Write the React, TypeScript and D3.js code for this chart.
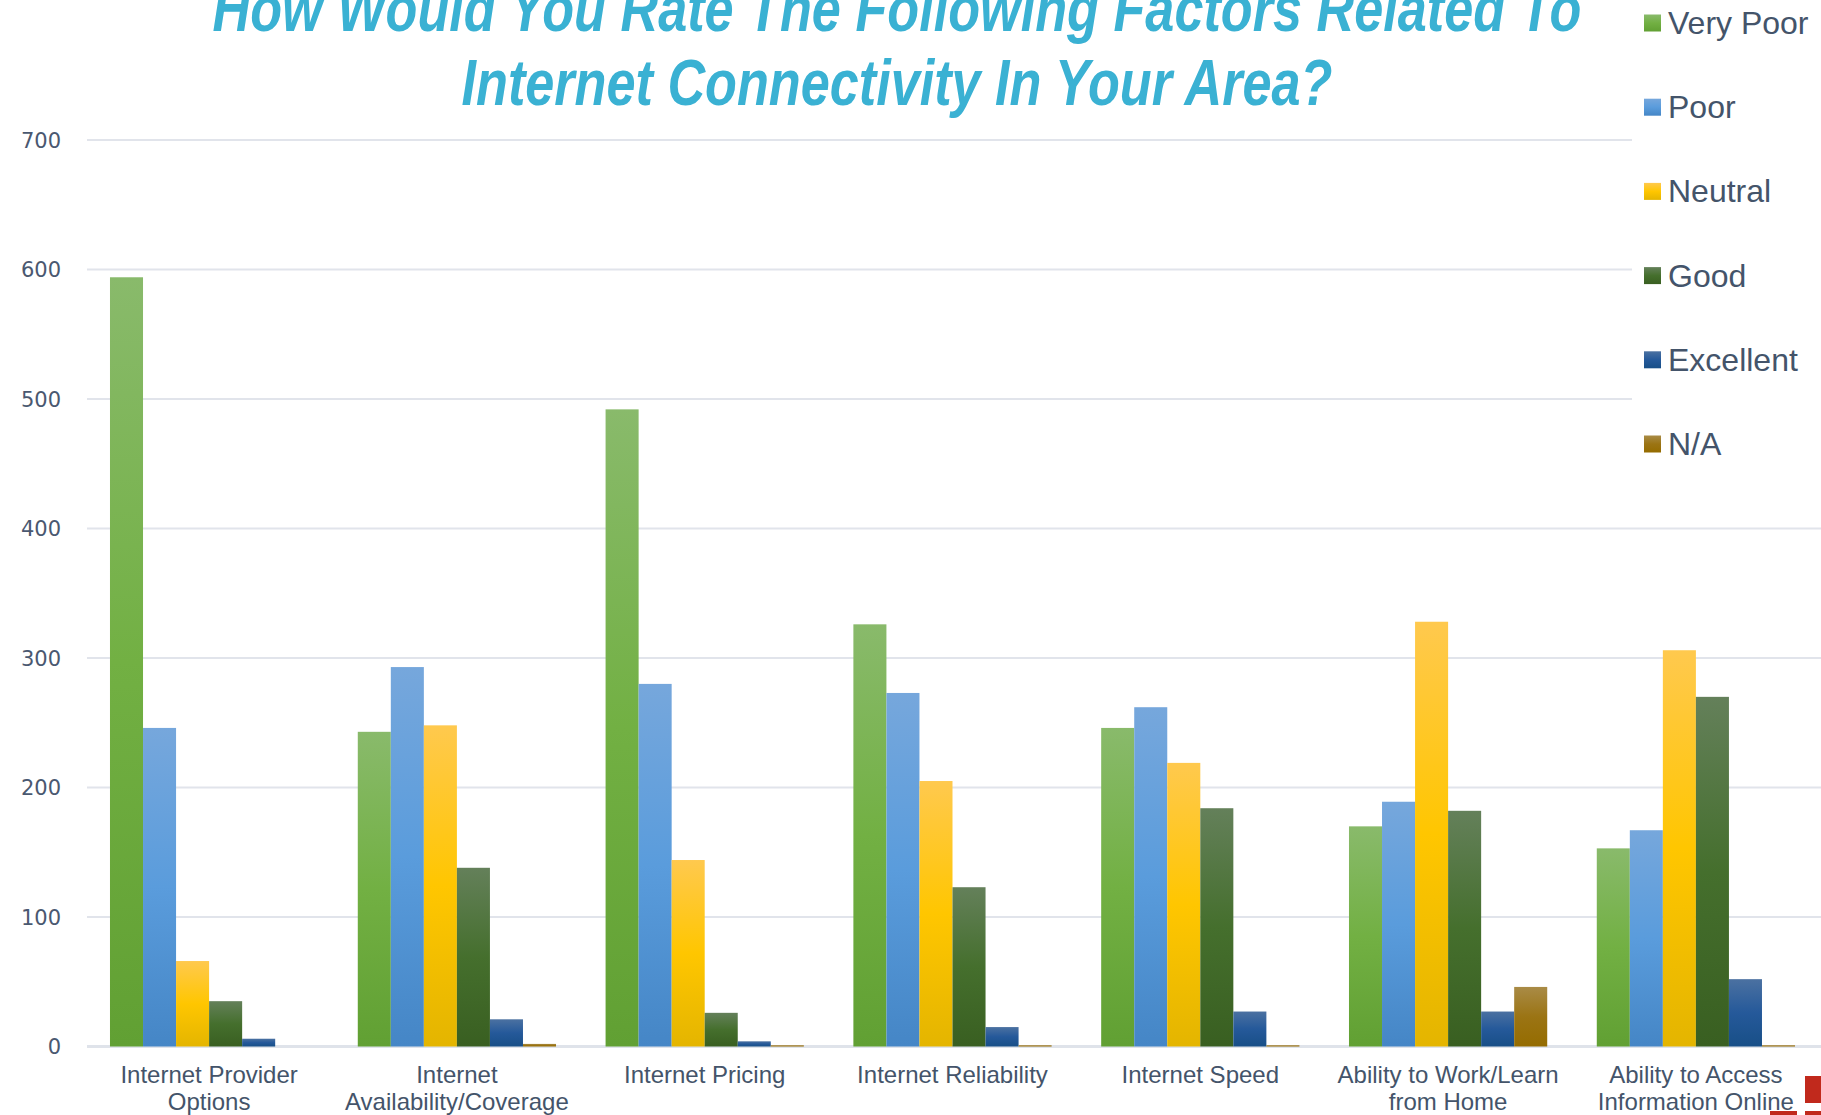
import React from "react";
import * as d3 from "d3";

// category labels, one entry per line
const categories: string[][] = [
  ["Internet Provider", "Options"],
  ["Internet", "Availability/Coverage"],
  ["Internet Pricing"],
  ["Internet Reliability"],
  ["Internet Speed"],
  ["Ability to Work/Learn", "from Home"],
  ["Ability to Access", "Information Online"],
];

const seriesNames = ["Very Poor", "Poor", "Neutral", "Good", "Excellent", "N/A"];

const veryPoor = [594, 243, 492, 326, 246, 170, 153];
const poor = [246, 293, 280, 273, 262, 189, 167];
const neutral = [66, 248, 144, 205, 219, 328, 306];
const good = [35, 138, 26, 123, 184, 182, 270];
const excellent = [6, 21, 4, 15, 27, 27, 52];
const notApplicable = [0, 2, 1, 1, 1, 46, 1];

const yTicks = [0, 100, 200, 300, 400, 500, 600, 700];

const titleLines = [
  "How Would You Rate The Following Factors Related To",
  "Internet Connectivity In Your Area?",
];

// gradient stops (top, middle, bottom) for each series
const gradients = [
  ["#89ba6b", "#72b043", "#61a033"],
  ["#76a7dc", "#5a9cdc", "#4586c6"],
  ["#ffc94e", "#ffc600", "#e4b500"],
  ["#64805a", "#456f2d", "#395f21"],
  ["#4b71a1", "#25599a", "#184f87"],
  ["#a98b46", "#9b7414", "#956c00"],
];

const W = 1821;
const H = 1115;

const App = () => {
  const svgRef = React.useRef(null);

  React.useEffect(() => {
    document.body.style.margin = "0";
    const values = [veryPoor, poor, neutral, good, excellent, notApplicable];

    const x0 = d3.scaleBand<number>()
      .domain(d3.range(categories.length))
      .range([85.2, 1819.8])
      .paddingInner(0.2)
      .paddingOuter(0.1);
    const x1 = d3.scaleBand<number>()
      .domain(d3.range(seriesNames.length))
      .range([0, x0.bandwidth()]);
    const y = d3.scaleLinear().domain([0, 700]).range([1046.5, 140]);

    const svgEl = d3.select(svgRef.current);
    svgEl.selectAll("*").remove();

    const defs = svgEl.append("defs");
    gradients.forEach((stops, i) => {
      const g = defs.append("linearGradient")
        .attr("id", `grad${i}`)
        .attr("x1", 0).attr("y1", 0).attr("x2", 0).attr("y2", 1);
      g.append("stop").attr("offset", "0%").attr("stop-color", stops[0]);
      g.append("stop").attr("offset", "50%").attr("stop-color", stops[1]);
      g.append("stop").attr("offset", "100%").attr("stop-color", stops[2]);
    });

    svgEl.append("rect").attr("width", W).attr("height", H).attr("fill", "#ffffff");

    // grid lines + y labels
    const grid = svgEl.append("g");
    grid.selectAll("line")
      .data(yTicks)
      .enter()
      .append("line")
      .attr("x1", 87)
      .attr("x2", W)
      .attr("y1", (d) => y(d))
      .attr("y2", (d) => y(d))
      .attr("stroke", (d) => (d === 0 ? "#dfe3ea" : "#e1e4eb"))
      .attr("stroke-width", (d) => (d === 0 ? 3 : 2));
    grid.selectAll("text")
      .data(yTicks)
      .enter()
      .append("text")
      .attr("x", 61)
      .attr("y", (d) => y(d))
      .attr("dy", "0.36em")
      .attr("text-anchor", "end")
      .attr("font-family", "DejaVu Sans")
      .attr("font-size", 21)
      .attr("fill", "#4a5870")
      .text((d) => d);

    // bars
    const groups = svgEl.append("g")
      .selectAll("g")
      .data(categories.map((_, i) => i))
      .enter()
      .append("g")
      .attr("transform", (i) => `translate(${x0(i)},0)`);
    groups.selectAll("rect")
      .data((i) => values.map((s, k) => ({ k, v: s[i] })))
      .enter()
      .append("rect")
      .attr("x", (d) => x1(d.k) as number)
      .attr("width", x1.bandwidth())
      .attr("y", (d) => y(d.v))
      .attr("height", (d) => y(0) - y(d.v))
      .attr("fill", (d) => `url(#grad${d.k})`);

    // category labels
    const labels = svgEl.append("g");
    categories.forEach((lines, i) => {
      const t = labels.append("text")
        .attr("text-anchor", "middle")
        .attr("font-family", "Liberation Sans, Arial, sans-serif")
        .attr("font-size", 24)
        .attr("fill", "#44546a");
      lines.forEach((line, j) => {
        t.append("tspan")
          .attr("x", (x0(i) as number) + x0.bandwidth() / 2)
          .attr("y", 1083 + j * 27)
          .text(line);
      });
    });

    // legend (white box sits over the upper grid lines)
    const legend = svgEl.append("g");
    legend.append("rect")
      .attr("x", 1632).attr("y", 0)
      .attr("width", W - 1632).attr("height", 480)
      .attr("fill", "#ffffff");
    seriesNames.forEach((name, i) => {
      const cy = 23 + i * 84.2;
      legend.append("rect")
        .attr("x", 1644).attr("y", cy - 8.5)
        .attr("width", 17).attr("height", 17)
        .attr("fill", `url(#grad${i})`);
      legend.append("text")
        .attr("x", 1668)
        .attr("y", cy + 11)
        .attr("font-family", "Liberation Sans, Arial, sans-serif")
        .attr("font-size", 32)
        .attr("fill", "#44546a")
        .text(name);
    });

    // title
    const titleWidths = [1369, 871];
    titleLines.forEach((line, i) => {
      svgEl.append("text")
        .attr("x", 897)
        .attr("y", 31 + i * 74)
        .attr("text-anchor", "middle")
        .attr("font-family", "Liberation Sans, Arial, sans-serif")
        .attr("font-size", 64)
        .attr("font-weight", "bold")
        .attr("font-style", "italic")
        .attr("fill", "#3ab1d3")
        .attr("textLength", titleWidths[i])
        .attr("lengthAdjust", "spacingAndGlyphs")
        .text(line);
    });

    // cut-off logo in the corner
    const logo = svgEl.append("g").attr("fill", "#c1291c");
    logo.append("rect").attr("x", 1805).attr("y", 1076).attr("width", 16).attr("height", 27);
    logo.append("rect").attr("x", 1770).attr("y", 1111).attr("width", 27).attr("height", 4);
    logo.append("rect").attr("x", 1805).attr("y", 1111).attr("width", 16).attr("height", 4);
  }, []);

  return <svg ref={svgRef} width={W} height={H} style={{ display: "block" }} />;
};

export default App;
